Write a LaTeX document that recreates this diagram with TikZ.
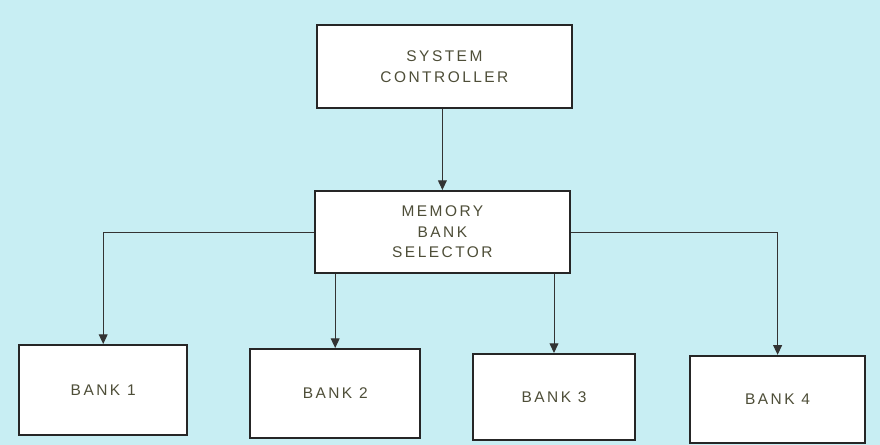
\documentclass[tikz,border=0pt]{standalone}
\usepackage{fontspec}
\setmainfont{Liberation Sans}[LetterSpace=16]
\usepackage{tikz}
\usetikzlibrary{arrows.meta, positioning}
\usepackage{xcolor}
\definecolor{paper}{HTML}{C8EEF3}
\definecolor{pencil}{HTML}{4E4E38}

\begin{document}
\begin{tikzpicture}[
    every node/.style={font=\fontsize{11}{14.5}\selectfont, text=pencil},
    unit/.style={rectangle, draw=black!85, line width=1.4pt, fill=white,
                 align=center, inner sep=2pt},
    feed/.style={-{Triangle[length=2.4mm, width=2.2mm]}, line width=0.7pt, black!80}
]
    \fill[paper] (0,0) rectangle (22,11.125);
    \useasboundingbox (0,0) rectangle (22,11.125);

    \node[unit, minimum width=6.375cm, minimum height=2.075cm] (ctrl)  at (11.11,9.46)
        {SYSTEM \\ CONTROLLER};
    \node[unit, minimum width=6.375cm, minimum height=2.05cm]  (sel)   at (11.06,5.325)
        {MEMORY \\ BANK \\ SELECTOR};
    \node[unit, minimum width=4.2cm,   minimum height=2.25cm]  (bank1) at (2.58,1.375) {BANK 1};
    \node[unit, minimum width=4.25cm,  minimum height=2.22cm]  (bank2) at (8.38,1.29)  {BANK 2};
    \node[unit, minimum width=4.05cm,  minimum height=2.15cm]  (bank3) at (13.85,1.2)  {BANK 3};
    \node[unit, minimum width=4.375cm, minimum height=2.18cm]  (bank4) at (19.44,1.14) {BANK 4};

    \draw[feed] (sel.north |- ctrl.south) -- (sel.north);
    \draw[feed] (sel.west) -| (bank1.north);
    \draw[feed] (bank2.north |- sel.south) -- (bank2.north);
    \draw[feed] (bank3.north |- sel.south) -- (bank3.north);
    \draw[feed] (sel.east) -| (bank4.north);
\end{tikzpicture}
\end{document}
